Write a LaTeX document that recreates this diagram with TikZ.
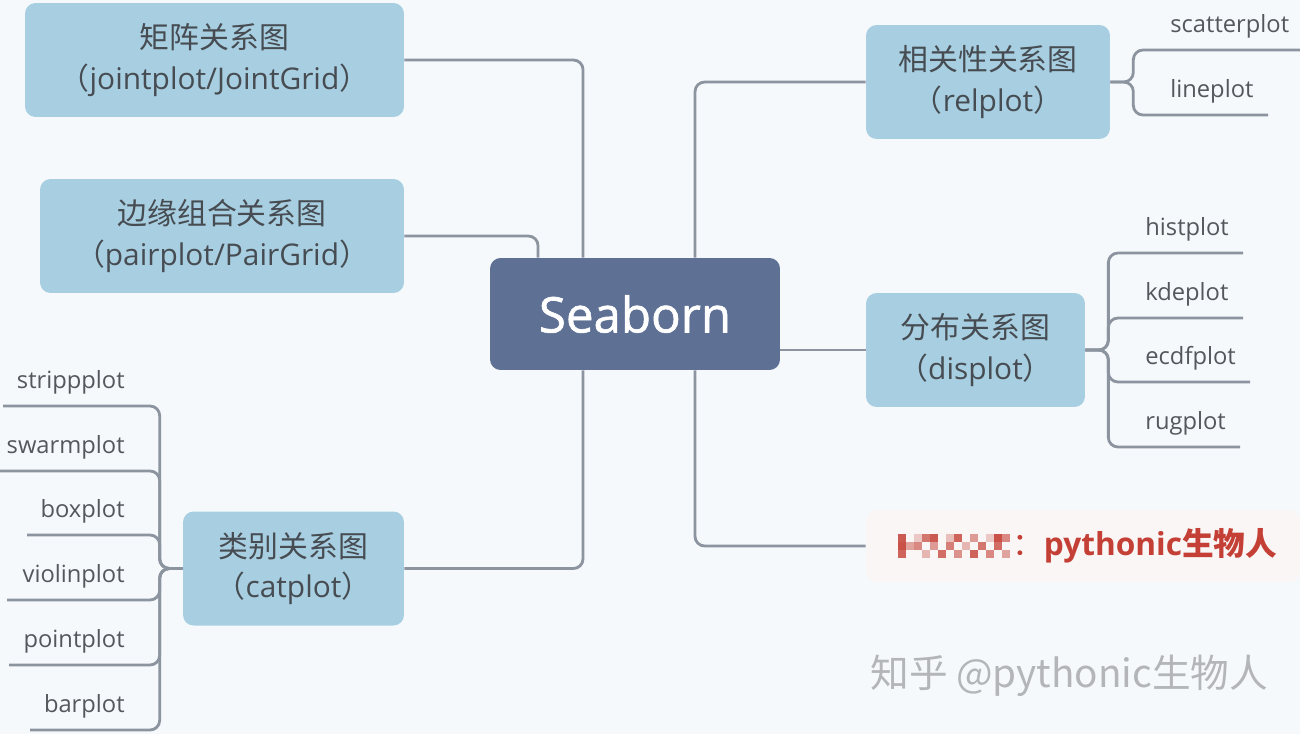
\documentclass[tikz,border=0pt]{standalone}
\usepackage{fontspec}
\setmainfont{Open Sans}
\newfontfamily\cjk{Noto Sans CJK SC}
\usetikzlibrary{positioning}
\definecolor{bgpage}{RGB}{246,249,252}
\definecolor{topicblue}{RGB}{168,207,225}
\definecolor{rootblue}{RGB}{94,112,148}
\definecolor{linkgray}{RGB}{140,148,160}
\definecolor{textgray}{RGB}{70,76,82}
\definecolor{leafgray}{RGB}{84,87,92}
\definecolor{notered}{RGB}{196,64,54}
\definecolor{notefill}{RGB}{249,246,245}
\definecolor{markgray}{RGB}{180,181,184}

\begin{document}
\begin{tikzpicture}[x=0.02cm, y=-0.02cm,
    topic/.style={rectangle, rounded corners=6pt, fill=topicblue, text=textgray, align=center, minimum height=2.28cm, font=\fontsize{17}{23}\selectfont},
    root/.style={rectangle, rounded corners=6pt, fill=rootblue, text=white, minimum width=5.8cm, minimum height=2.24cm, font=\fontsize{28}{33}\selectfont\addfontfeature{FakeBold=1.2}},
    leaf/.style={text=leafgray, inner sep=0pt, font=\fontsize{13.5}{15}\selectfont},
    link/.style={draw=linkgray, line width=1.6pt, rounded corners=5.5pt}
]

% page
\fill[bgpage] (0,0) rectangle (1300,734);
\useasboundingbox (0,0) rectangle (1300,734);

% Central topic
\node[root] (sea) at (635,314) {Seaborn};

% Left topics
\node[topic, minimum width=7.58cm] (joint) at (214.5,60) {{\cjk 矩阵关系图}\\{\cjk （}jointplot/JointGrid{\cjk ）}};
\node[topic, minimum width=7.28cm] (pair) at (222,236) {{\cjk 边缘组合关系图}\\{\cjk （}pairplot/PairGrid{\cjk ）}};
\node[topic, minimum width=4.42cm] (cat) at (293.5,568.5) {{\cjk 类别关系图}\\{\cjk （}catplot{\cjk ）}};

% Right topics
\node[topic, minimum width=4.88cm] (rel) at (988,82) {{\cjk 相关性关系图}\\{\cjk （}relplot{\cjk ）}};
\node[topic, minimum width=4.38cm] (dis) at (975.5,350) {{\cjk 分布关系图}\\{\cjk （}displot{\cjk ）}};

% Note
\node[rectangle, rounded corners=6pt, fill=notefill, minimum width=8.68cm, minimum height=1.44cm] (notebox) at (1083,546) {};
\foreach \x/\y/\o in {898/534/0.85, 898/542/0.9, 898/550/0.8, 906/542/0.45, 914/534/0.25, 914/542/0.6, 922/534/0.7,
    922/550/0.35, 930/534/0.85, 930/542/0.5, 938/550/0.75, 946/534/0.3, 946/542/0.65, 954/534/0.8, 954/550/0.55,
    962/542/0.35, 970/534/0.5, 970/550/0.8, 978/542/0.7, 986/534/0.25, 986/550/0.6, 994/534/0.9, 994/542/0.75,
    1002/534/0.6, 1002/550/0.45}
    \fill[notered, opacity=\o] (\x,\y) rectangle ++(8,8);
\node[text=notered, anchor=west, inner sep=0pt, font=\fontsize{18}{21}\selectfont] (note) at (1012,546) {{\cjk ：}{\bfseries pythonic}{\cjk\bfseries 生物人}};

% Links from the central topic
\draw[link] ([xshift=-1.04cm]sea.north) |- (joint.east);
\draw[link] ([xshift=-1.94cm]sea.north) |- (pair.east);
\draw[link] ([xshift=-1.04cm]sea.south) |- (cat.east);
\draw[link] ([xshift=1.2cm]sea.north) |- (rel.west);
\draw[link] ([xshift=1.2cm]sea.south) |- (notebox.west);
\draw[link] (sea.east |- dis.west) -- (dis.west);

% relplot leaves
\coordinate (scatter-end) at (1300,50);
\coordinate (line-end) at (1268,115);
\node[leaf, anchor=base west] (scatter) at (1170,32) {scatterplot};
\node[leaf, anchor=base west] (lineplot) at (1170,97) {lineplot};
\draw[link] (rel.east) -- ++(0.46cm,0) |- (scatter-end);
\draw[link] (rel.east) -- ++(0.46cm,0) |- (line-end);

% displot leaves
\coordinate (hist-end) at (1243,253);
\coordinate (kde-end) at (1243,318);
\coordinate (ecdf-end) at (1250,382);
\coordinate (rug-end) at (1240,447);
\node[leaf, anchor=base west] (hist) at (1145,235) {histplot};
\node[leaf, anchor=base west] (kde) at (1145,300) {kdeplot};
\node[leaf, anchor=base west] (ecdf) at (1145,364) {ecdfplot};
\node[leaf, anchor=base west] (rug) at (1145,429) {rugplot};
\draw[link] (dis.east) -- ++(0.46cm,0) |- (hist-end);
\draw[link] (dis.east) -- ++(0.46cm,0) |- (kde-end);
\draw[link] (dis.east) -- ++(0.46cm,0) |- (ecdf-end);
\draw[link] (dis.east) -- ++(0.46cm,0) |- (rug-end);

% catplot leaves
\coordinate (strip-end) at (3,406);
\coordinate (swarm-end) at (0,471);
\coordinate (box-end) at (27,535);
\coordinate (violin-end) at (7,600);
\coordinate (point-end) at (9,665);
\coordinate (bar-end) at (30,730);
\node[leaf, anchor=base east] (strip) at (125,388) {strippplot};
\node[leaf, anchor=base east] (swarm) at (125,453) {swarmplot};
\node[leaf, anchor=base east] (box) at (125,517) {boxplot};
\node[leaf, anchor=base east] (violin) at (125,582) {violinplot};
\node[leaf, anchor=base east] (point) at (125,647) {pointplot};
\node[leaf, anchor=base east] (bar) at (125,712) {barplot};
\draw[link] (cat.west) -- ++(-0.46cm,0) |- (strip-end);
\draw[link] (cat.west) -- ++(-0.46cm,0) |- (swarm-end);
\draw[link] (cat.west) -- ++(-0.46cm,0) |- (box-end);
\draw[link] (cat.west) -- ++(-0.46cm,0) |- (violin-end);
\draw[link] (cat.west) -- ++(-0.46cm,0) |- (point-end);
\draw[link] (cat.west) -- ++(-0.46cm,0) |- (bar-end);

% watermark
\node[text=markgray, anchor=west, inner sep=0pt, font=\cjk\fontsize{22}{25}\selectfont] (mark) at (870,676) {知乎 @pythonic生物人};

\end{tikzpicture}
\end{document}
